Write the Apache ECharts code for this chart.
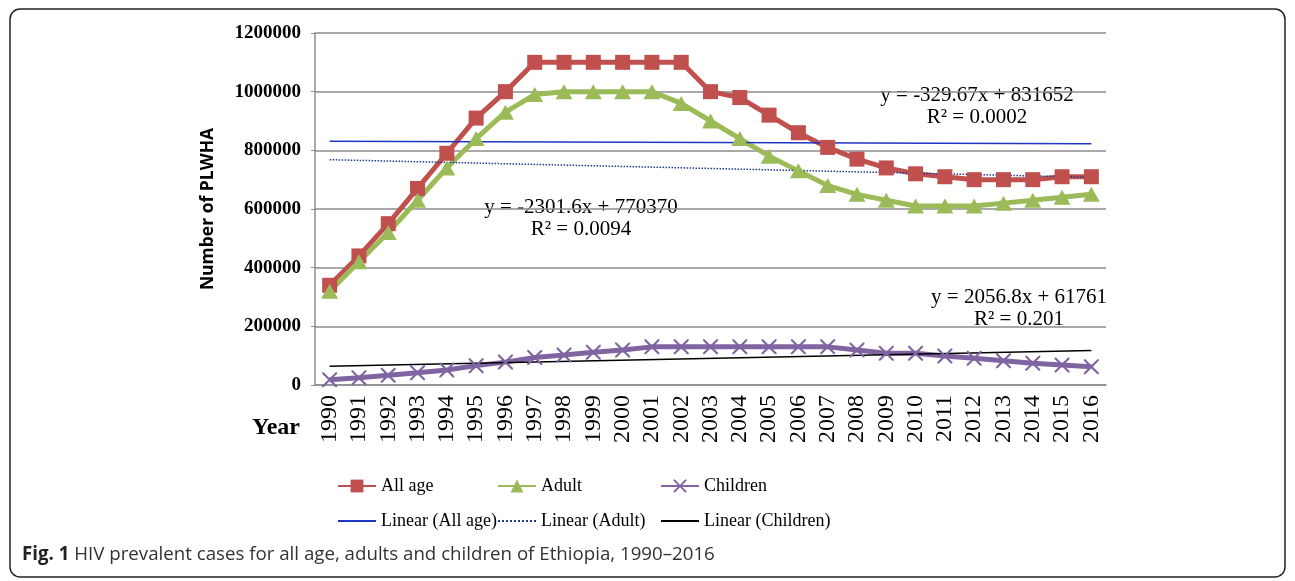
<!DOCTYPE html>
<html>
<head>
<meta charset="utf-8">
<script src="https://cdn.jsdelivr.net/npm/echarts@6/dist/echarts.min.js"></script>
<style>
  html, body { margin: 0; padding: 0; background: #fff; }
  #chart { width: 1295px; height: 581px; }
</style>
</head>
<body>
<div id="chart"></div>
<script>
// HIV prevalent cases, Ethiopia 1990-2016
var years = ['1990','1991','1992','1993','1994','1995','1996','1997','1998','1999','2000','2001','2002','2003',
  '2004','2005','2006','2007','2008','2009','2010','2011','2012','2013','2014','2015','2016'];

var allAge = [340000, 440000, 550000, 670000, 790000, 910000, 1000000, 1100000, 1100000, 1100000, 1100000, 1100000,
  1100000, 1000000, 980000, 920000, 860000, 810000, 770000, 740000, 720000, 710000, 700000, 700000, 700000, 710000, 710000];

var adult = [320000, 420000, 520000, 630000, 740000, 840000, 930000, 990000, 1000000, 1000000, 1000000, 1000000,
  960000, 900000, 840000, 780000, 730000, 680000, 650000, 630000, 610000, 610000, 610000, 620000, 630000, 640000, 650000];

var children = [18000, 25000, 33000, 42000, 51000, 66000, 78000, 94000, 102000, 112000, 119000, 130000, 130000, 130000,
  130000, 130000, 130000, 130000, 119000, 108000, 108000, 99000, 91000, 83000, 74000, 68000, 62000];

// trend lines: values at 1990 and 2016
var trendAllAge = [831300, 822750];
var trendAdult = [768100, 708200];
var trendChildren = [63800, 117300];

var yTicks = [0, 200000, 400000, 600000, 800000, 1000000, 1200000];

var equations = [
  'y = -329.67x + 831652\nR² = 0.0002',
  'y = -2301.6x + 770370\nR² = 0.0094',
  'y = 2056.8x + 61761\nR² = 0.201'
];

var serif = '"Liberation Serif", "Times New Roman", serif';
var xPath = 'path://M0,0 L2,0 L10,8 L18,0 L20,0 L20,2 L12,10 L20,18 L20,20 L18,20 L10,12 L2,20 L0,20 L0,18 L8,10 L0,2 Z';

function trend(vals) {
  return [[years[0], vals[0]], [years[years.length - 1], vals[1]]];
}

function legendCol(left, names) {
  return {
    orient: 'vertical', left: left, top: 477, padding: 0,
    itemWidth: 38, itemHeight: 16, itemGap: 17,
    textStyle: { color: '#000', fontFamily: serif, fontSize: 18 },
    data: [names[0], { name: names[1], itemStyle: { opacity: 0 } }]
  };
}

var chart = echarts.init(document.getElementById('chart'));
chart.setOption({
  animation: false,
  backgroundColor: '#fff',
  grid: { left: 315, top: 33, width: 791, height: 352, containLabel: false },
  xAxis: {
    type: 'category',
    data: years,
    boundaryGap: true,
    axisLine: { lineStyle: { color: '#8c8c8c', width: 1.5 } },
    axisTick: { show: false },
    axisLabel: { interval: 0, rotate: 90, margin: 10, color: '#000', fontFamily: serif, fontSize: 24 }
  },
  yAxis: {
    type: 'value',
    min: yTicks[0],
    max: yTicks[yTicks.length - 1],
    interval: yTicks[1] - yTicks[0],
    name: 'Number of PLWHA',
    nameLocation: 'middle',
    nameRotate: 90,
    nameGap: 98,
    nameTextStyle: { color: '#000', fontFamily: '"Open Sans", sans-serif', fontWeight: 'bold', fontSize: 17.5 },
    axisLine: { show: true, lineStyle: { color: '#8c8c8c', width: 1.5 } },
    axisTick: { show: true, length: 4, lineStyle: { color: '#8c8c8c' } },
    axisLabel: {
      margin: 14, color: '#000', fontFamily: serif, fontWeight: 'bold', fontSize: 19,
      formatter: function (v) { return String(v); }
    },
    splitLine: { lineStyle: { color: '#8c8c8c', width: 1.5 } }
  },
  legend: [
    legendCol(337, ['All age', 'Linear (All age)']),
    legendCol(497, ['Adult', 'Linear (Adult)']),
    legendCol(660, ['Children', 'Linear (Children)'])
  ],
  series: [
    {
      name: 'All age', type: 'line', data: allAge,
      symbol: 'rect', symbolSize: 15,
      lineStyle: { color: '#c0504d', width: 5 },
      itemStyle: { color: '#c0504d' }
    },
    {
      name: 'Adult', type: 'line', data: adult,
      symbol: 'triangle', symbolSize: [17, 15],
      lineStyle: { color: '#9bbb59', width: 5 },
      itemStyle: { color: '#9bbb59' }
    },
    {
      name: 'Children', type: 'line', data: children,
      symbol: xPath, symbolSize: 15,
      lineStyle: { color: '#8064a2', width: 5 },
      itemStyle: { color: '#8064a2' }
    },
    {
      name: 'Linear (All age)', type: 'line', data: trend(trendAllAge),
      symbol: 'none', lineStyle: { color: '#1f35c4', width: 1.5 }, itemStyle: { color: '#1f35c4' }
    },
    {
      name: 'Linear (Adult)', type: 'line', data: trend(trendAdult),
      symbol: 'none', lineStyle: { color: '#1f3a8f', width: 1.5, type: 'dotted' }, itemStyle: { color: '#1f3a8f' }
    },
    {
      name: 'Linear (Children)', type: 'line', data: trend(trendChildren),
      symbol: 'none', lineStyle: { color: '#000', width: 1.5 }, itemStyle: { color: '#000' }
    }
  ],
  graphic: [
    {
      type: 'rect', z: -1, silent: true,
      shape: { x: 10, y: 9, width: 1275, height: 568, r: 10 },
      style: { fill: 'none', stroke: '#222', lineWidth: 1.5 }
    },
    {
      type: 'text', left: 252, top: 416,
      style: { text: 'Year', fill: '#000', font: 'bold 24px ' + serif }
    },
    {
      type: 'text', x: 977, y: 106,
      style: { text: equations[0], fill: '#000', font: '21px ' + serif, align: 'center', verticalAlign: 'middle', lineHeight: 22 }
    },
    {
      type: 'text', x: 581, y: 218,
      style: { text: equations[1], fill: '#000', font: '21px ' + serif, align: 'center', verticalAlign: 'middle', lineHeight: 22 }
    },
    {
      type: 'text', x: 1019, y: 308,
      style: { text: equations[2], fill: '#000', font: '21px ' + serif, align: 'center', verticalAlign: 'middle', lineHeight: 22 }
    },
    {
      type: 'text', left: 22, top: 545,
      style: {
        text: '{b|Fig. 1} HIV prevalent cases for all age, adults and children of Ethiopia, 1990–2016',
        fill: '#333', font: '18.7px "Open Sans", sans-serif',
        rich: {
          b: { fontWeight: 'bold', fontSize: 18.7, fontFamily: '"Open Sans", sans-serif', fill: '#222' }
        }
      }
    }
  ]
});
</script>
</body>
</html>
